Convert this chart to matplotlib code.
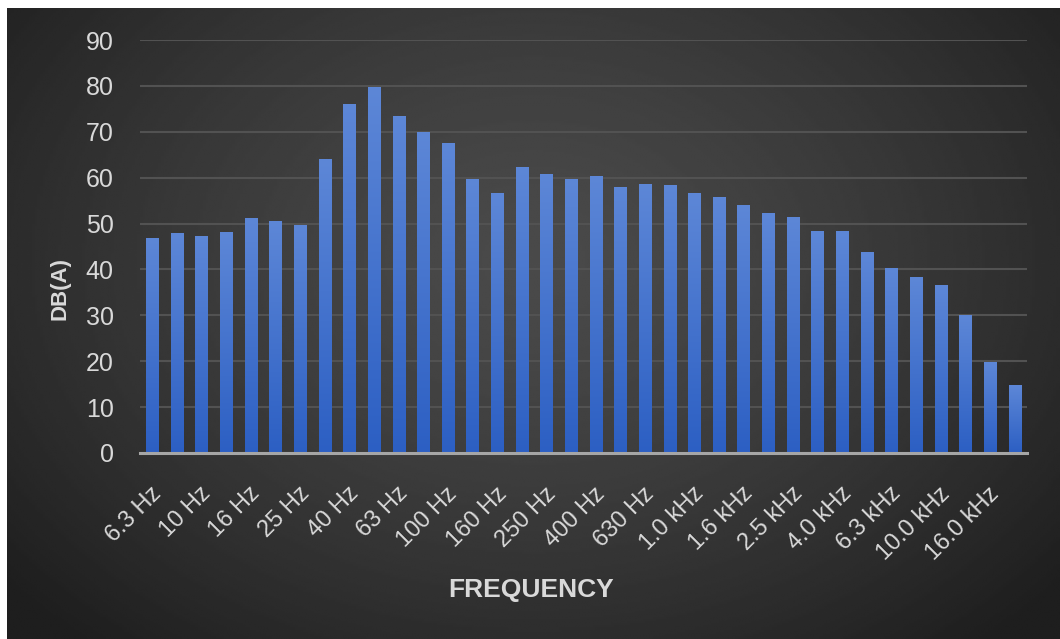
import matplotlib
matplotlib.use("Agg")
import matplotlib.pyplot as plt
import matplotlib.transforms as mtransforms
from matplotlib.colors import LinearSegmentedColormap
import numpy as np

# third-octave bands and measured levels
bands = ["6.3 Hz", "8 Hz", "10 Hz", "12.5 Hz", "16 Hz", "20 Hz", "25 Hz", "31.5 Hz",
         "40 Hz", "50 Hz", "63 Hz", "80 Hz", "100 Hz", "125 Hz", "160 Hz", "200 Hz",
         "250 Hz", "315 Hz", "400 Hz", "500 Hz", "630 Hz", "800 Hz", "1.0 kHz", "1.25 kHz",
         "1.6 kHz", "2.0 kHz", "2.5 kHz", "3.15 kHz", "4.0 kHz", "5.0 kHz", "6.3 kHz",
         "8.0 kHz", "10.0 kHz", "12.5 kHz", "16.0 kHz", "20.0 kHz"]
db_values = [46.8, 47.8, 47.1, 48.0, 51.1, 50.5, 49.6, 64.0, 76.0, 79.7, 73.3, 69.9,
             67.4, 59.7, 56.6, 62.2, 60.7, 59.7, 60.3, 57.8, 58.5, 58.2, 56.6, 55.7,
             53.9, 52.3, 51.4, 48.3, 48.3, 43.7, 40.3, 38.2, 36.6, 29.9, 19.7, 14.8]
y_ticks = [0, 10, 20, 30, 40, 50, 60, 70, 80, 90]

W, H = 1060, 639
fig = plt.figure(figsize=(W / 100, H / 100), dpi=100, facecolor="white")
plt.rcParams["font.family"] = ["Liberation Sans", "DejaVu Sans"]
txt = "#d9d9d9"

# dark radial gradient background
bg = fig.add_axes([7 / W, 0, 1 - 7 / W, 1 - 8 / H], zorder=0)
gx, gy = np.meshgrid(np.linspace(0, 1, 400), np.linspace(0, 1, 300))
r = np.sqrt(((gx - 0.5) / 0.65) ** 2 + ((gy - 0.6) / 0.8) ** 2)
shade = 0.29 - (0.29 - 0.12) * np.clip(r, 0, 1) ** 1.4
bg.imshow(shade, cmap="gray", vmin=0, vmax=1, aspect="auto", origin="lower",
          extent=[0, 1, 0, 1], interpolation="bilinear")
bg.axis("off")

ax = fig.add_axes([140 / W, (H - 453) / H, 887 / W, 413 / H], zorder=1)
ax.set_facecolor("none")

x = np.arange(len(bands))
bars = ax.bar(x, db_values, width=0.5, color="none", zorder=3)

# vertical blue gradient inside each bar
cmap = LinearSegmentedColormap.from_list("barblue", ["#2c5fc3", "#5d87d7"])
grad = np.linspace(0, 1, 256).reshape(-1, 1)
for b in bars:
    x0, w, h = b.get_x(), b.get_width(), b.get_height()
    ax.imshow(grad, extent=[x0, x0 + w, 0, h], origin="lower", cmap=cmap,
              aspect="auto", zorder=3, interpolation="bilinear")

ax.set_xlim(-0.5, len(bands) - 0.5)
ax.set_ylim(0, 90)
ax.set_yticks(y_ticks)
ax.yaxis.grid(True, color="#525252", linewidth=1.5, zorder=1)
ax.set_axisbelow(True)
for s in ["top", "right", "left"]:
    ax.spines[s].set_visible(False)
ax.spines["bottom"].set_color("#a6a6a6")
ax.spines["bottom"].set_linewidth(2.2)
ax.spines["bottom"].set_zorder(4)

ax.tick_params(axis="y", length=0, pad=19, labelsize=18, labelcolor=txt)
ax.tick_params(axis="x", length=0, pad=27, labelsize=17, labelcolor=txt)

ax.set_xticks(x[::2])
ax.set_xticklabels(bands[::2], rotation=45, ha="right", va="center",
                   rotation_mode="anchor")
shift = mtransforms.ScaledTranslation(6 / 100, 0, fig.dpi_scale_trans)
for lab in ax.get_xticklabels():
    lab.set_transform(lab.get_transform() + shift)

ax.set_ylabel("DB(A)", fontsize=16, fontweight="bold", color=txt)
ax.yaxis.set_label_coords((60 - 140) / 887, (453 - 288) / 413)
ax.set_xlabel("FREQUENCY", fontsize=19, fontweight="bold", color=txt)
ax.xaxis.set_label_coords((531 - 140) / 887, (453 - 590) / 413)
ax.xaxis.label.set_va("center")
ax.yaxis.label.set_va("center")

fig.savefig("out.png", dpi=100, facecolor="white")
